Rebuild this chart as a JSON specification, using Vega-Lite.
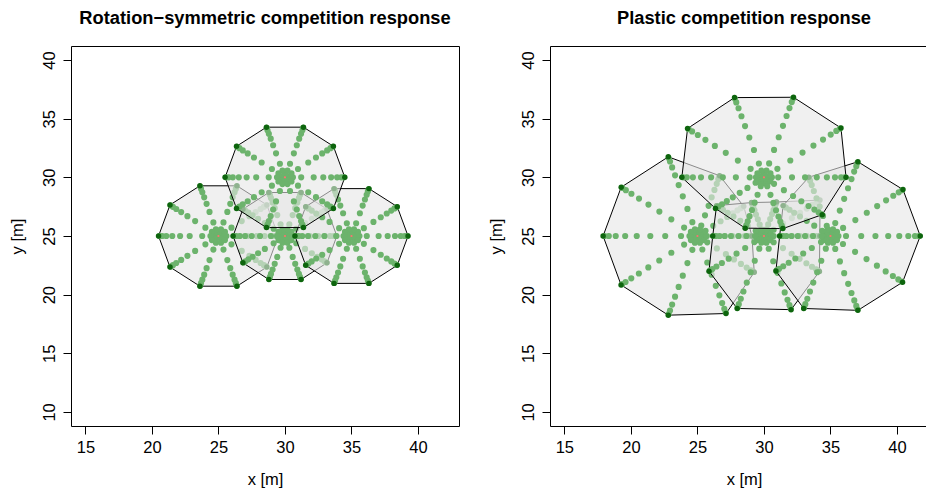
{
  "$schema": "https://vega.github.io/schema/vega-lite/v6.json",
  "background": "white",
  "padding": {"left": 8, "top": 8, "right": 0, "bottom": 0},
  "spacing": 91,
  "bounds": "flush",
  "config": {
    "view": {"stroke": "black", "strokeWidth": 1},
    "font": "Liberation Sans",
    "axis": {
      "grid": false, "domain": false,
      "tickColor": "black", "tickSize": 8, "tickWidth": 1,
      "labelColor": "black", "labelFont": "Liberation Sans", "labelFontSize": 16.5,
      "titleColor": "black", "titleFont": "Liberation Sans", "titleFontSize": 16.5, "titleFontWeight": "normal"
    },
    "axisX": {"labelPadding": 5.5, "titlePadding": 15},
    "axisY": {"labelAngle": -90, "labelAlign": "center", "labelBaseline": "bottom", "labelPadding": 6, "titlePadding": 16},
    "title": {"font": "Liberation Sans", "fontSize": 18.3, "fontWeight": "bold", "color": "black", "offset": 18, "anchor": "middle"}
  },
  "datasets": {
    "polyA": [
      {"t":1,"k":0,"x":29.5,"y":25},{"t":1,"k":1,"x":28.64,"y":27.65},{"t":1,"k":2,"x":26.39,"y":29.28},{"t":1,"k":3,"x":23.61,"y":29.28},{"t":1,"k":4,"x":21.36,"y":27.65},{"t":1,"k":5,"x":20.5,"y":25},{"t":1,"k":6,"x":21.36,"y":22.35},{"t":1,"k":7,"x":23.61,"y":20.72},{"t":1,"k":8,"x":26.39,"y":20.72},{"t":1,"k":9,"x":28.64,"y":22.35},{"t":1,"k":10,"x":29.5,"y":25},
      {"t":2,"k":0,"x":33.9,"y":25},{"t":2,"k":1,"x":33.16,"y":27.29},{"t":2,"k":2,"x":31.21,"y":28.71},{"t":2,"k":3,"x":28.79,"y":28.71},{"t":2,"k":4,"x":26.84,"y":27.29},{"t":2,"k":5,"x":26.1,"y":25},{"t":2,"k":6,"x":26.84,"y":22.71},{"t":2,"k":7,"x":28.79,"y":21.29},{"t":2,"k":8,"x":31.21,"y":21.29},{"t":2,"k":9,"x":33.16,"y":22.71},{"t":2,"k":10,"x":33.9,"y":25},
      {"t":3,"k":0,"x":39.25,"y":25},{"t":3,"k":1,"x":38.44,"y":27.5},{"t":3,"k":2,"x":36.31,"y":29.04},{"t":3,"k":3,"x":33.69,"y":29.04},{"t":3,"k":4,"x":31.56,"y":27.5},{"t":3,"k":5,"x":30.75,"y":25},{"t":3,"k":6,"x":31.56,"y":22.5},{"t":3,"k":7,"x":33.69,"y":20.96},{"t":3,"k":8,"x":36.31,"y":20.96},{"t":3,"k":9,"x":38.44,"y":22.5},{"t":3,"k":10,"x":39.25,"y":25},
      {"t":4,"k":0,"x":34.5,"y":30},{"t":4,"k":1,"x":33.64,"y":32.65},{"t":4,"k":2,"x":31.39,"y":34.28},{"t":4,"k":3,"x":28.61,"y":34.28},{"t":4,"k":4,"x":26.36,"y":32.65},{"t":4,"k":5,"x":25.5,"y":30},{"t":4,"k":6,"x":26.36,"y":27.35},{"t":4,"k":7,"x":28.61,"y":25.72},{"t":4,"k":8,"x":31.39,"y":25.72},{"t":4,"k":9,"x":33.64,"y":27.35},{"t":4,"k":10,"x":34.5,"y":30}
    ],
    "ctrA": [{"x":25,"y":25},{"x":30,"y":25},{"x":35,"y":25},{"x":30,"y":30}],
    "dotsA": [
      {"t":1,"x":25,"y":25},{"t":1,"x":25.29,"y":25.09},{"t":1,"x":25,"y":25.3},{"t":1,"x":24.71,"y":25.09},{"t":1,"x":24.82,"y":24.76},{"t":1,"x":25.18,"y":24.76},
      {"t":1,"x":25.6,"y":25},{"t":1,"x":25.49,"y":25.35},{"t":1,"x":25.19,"y":25.57},{"t":1,"x":24.81,"y":25.57},{"t":1,"x":24.51,"y":25.35},{"t":1,"x":24.4,"y":25},{"t":1,"x":24.51,"y":24.65},{"t":1,"x":24.81,"y":24.43},{"t":1,"x":25.19,"y":24.43},{"t":1,"x":25.49,"y":24.65},
      {"t":1,"x":26.22,"y":25},{"t":1,"x":25.98,"y":25.71},{"t":1,"x":25.38,"y":26.16},{"t":1,"x":24.62,"y":26.16},{"t":1,"x":24.02,"y":25.71},{"t":1,"x":23.78,"y":25},{"t":1,"x":24.02,"y":24.29},{"t":1,"x":24.62,"y":23.84},{"t":1,"x":25.38,"y":23.84},{"t":1,"x":25.98,"y":24.29},
      {"t":1,"x":27.16,"y":25},{"t":1,"x":26.75,"y":26.27},{"t":1,"x":25.67,"y":27.05},{"t":1,"x":24.33,"y":27.05},{"t":1,"x":23.25,"y":26.27},{"t":1,"x":22.84,"y":25},{"t":1,"x":23.25,"y":23.73},{"t":1,"x":24.33,"y":22.95},{"t":1,"x":25.67,"y":22.95},{"t":1,"x":26.75,"y":23.73},
      {"t":1,"x":27.88,"y":25},{"t":1,"x":27.33,"y":26.69},{"t":1,"x":25.89,"y":27.74},{"t":1,"x":24.11,"y":27.74},{"t":1,"x":22.67,"y":26.69},{"t":1,"x":22.12,"y":25},{"t":1,"x":22.67,"y":23.31},{"t":1,"x":24.11,"y":22.26},{"t":1,"x":25.89,"y":22.26},{"t":1,"x":27.33,"y":23.31},
      {"t":1,"x":28.47,"y":25},{"t":1,"x":27.8,"y":27.04},{"t":1,"x":26.07,"y":28.3},{"t":1,"x":23.93,"y":28.3},{"t":1,"x":22.2,"y":27.04},{"t":1,"x":21.53,"y":25},{"t":1,"x":22.2,"y":22.96},{"t":1,"x":23.93,"y":21.7},{"t":1,"x":26.07,"y":21.7},{"t":1,"x":27.8,"y":22.96},
      {"t":1,"x":28.92,"y":25},{"t":1,"x":28.17,"y":27.3},{"t":1,"x":26.21,"y":28.72},{"t":1,"x":23.79,"y":28.72},{"t":1,"x":21.83,"y":27.3},{"t":1,"x":21.08,"y":25},{"t":1,"x":21.83,"y":22.7},{"t":1,"x":23.79,"y":21.28},{"t":1,"x":26.21,"y":21.28},{"t":1,"x":28.17,"y":22.7},
      {"t":1,"x":29.23,"y":25},{"t":1,"x":28.42,"y":27.49},{"t":1,"x":26.31,"y":29.02},{"t":1,"x":23.69,"y":29.02},{"t":1,"x":21.58,"y":27.49},{"t":1,"x":20.77,"y":25},{"t":1,"x":21.58,"y":22.51},{"t":1,"x":23.69,"y":20.98},{"t":1,"x":26.31,"y":20.98},{"t":1,"x":28.42,"y":22.51},
      {"t":1,"x":29.43,"y":25},{"t":1,"x":28.59,"y":27.61},{"t":1,"x":26.37,"y":29.22},{"t":1,"x":23.63,"y":29.22},{"t":1,"x":21.41,"y":27.61},{"t":1,"x":20.57,"y":25},{"t":1,"x":21.41,"y":22.39},{"t":1,"x":23.63,"y":20.78},{"t":1,"x":26.37,"y":20.78},{"t":1,"x":28.59,"y":22.39},

      {"t":2,"x":30,"y":25},{"t":2,"x":30.29,"y":25.09},{"t":2,"x":30,"y":25.3},{"t":2,"x":29.71,"y":25.09},{"t":2,"x":29.82,"y":24.76},{"t":2,"x":30.18,"y":24.76},
      {"t":2,"x":30.6,"y":25},{"t":2,"x":30.49,"y":25.35},{"t":2,"x":30.19,"y":25.57},{"t":2,"x":29.81,"y":25.57},{"t":2,"x":29.51,"y":25.35},{"t":2,"x":29.4,"y":25},{"t":2,"x":29.51,"y":24.65},{"t":2,"x":29.81,"y":24.43},{"t":2,"x":30.19,"y":24.43},{"t":2,"x":30.49,"y":24.65},
      {"t":2,"x":31.05,"y":25},{"t":2,"x":30.85,"y":25.62},{"t":2,"x":30.33,"y":26},{"t":2,"x":29.67,"y":26},{"t":2,"x":29.15,"y":25.62},{"t":2,"x":28.95,"y":25},{"t":2,"x":29.15,"y":24.38},{"t":2,"x":29.67,"y":24},{"t":2,"x":30.33,"y":24},{"t":2,"x":30.85,"y":24.38},
      {"t":2,"x":31.87,"y":25},{"t":2,"x":31.51,"y":26.1},{"t":2,"x":30.58,"y":26.78},{"t":2,"x":29.42,"y":26.78},{"t":2,"x":28.49,"y":26.1},{"t":2,"x":28.13,"y":25},{"t":2,"x":28.49,"y":23.9},{"t":2,"x":29.42,"y":23.22},{"t":2,"x":30.58,"y":23.22},{"t":2,"x":31.51,"y":23.9},
      {"t":2,"x":32.5,"y":25},{"t":2,"x":32.02,"y":26.47},{"t":2,"x":30.77,"y":27.37},{"t":2,"x":29.23,"y":27.37},{"t":2,"x":27.98,"y":26.47},{"t":2,"x":27.5,"y":25},{"t":2,"x":27.98,"y":23.53},{"t":2,"x":29.23,"y":22.63},{"t":2,"x":30.77,"y":22.63},{"t":2,"x":32.02,"y":23.53},
      {"t":2,"x":33,"y":25},{"t":2,"x":32.43,"y":26.77},{"t":2,"x":30.93,"y":27.86},{"t":2,"x":29.07,"y":27.86},{"t":2,"x":27.57,"y":26.77},{"t":2,"x":27,"y":25},{"t":2,"x":27.57,"y":23.23},{"t":2,"x":29.07,"y":22.14},{"t":2,"x":30.93,"y":22.14},{"t":2,"x":32.43,"y":23.23},
      {"t":2,"x":33.39,"y":25},{"t":2,"x":32.75,"y":26.99},{"t":2,"x":31.05,"y":28.23},{"t":2,"x":28.95,"y":28.23},{"t":2,"x":27.25,"y":26.99},{"t":2,"x":26.61,"y":25},{"t":2,"x":27.25,"y":23.01},{"t":2,"x":28.95,"y":21.77},{"t":2,"x":31.05,"y":21.77},{"t":2,"x":32.75,"y":23.01},
      {"t":2,"x":33.67,"y":25},{"t":2,"x":32.97,"y":27.15},{"t":2,"x":31.13,"y":28.49},{"t":2,"x":28.87,"y":28.49},{"t":2,"x":27.03,"y":27.15},{"t":2,"x":26.33,"y":25},{"t":2,"x":27.03,"y":22.85},{"t":2,"x":28.87,"y":21.51},{"t":2,"x":31.13,"y":21.51},{"t":2,"x":32.97,"y":22.85},
      {"t":2,"x":33.84,"y":25},{"t":2,"x":33.11,"y":27.26},{"t":2,"x":31.19,"y":28.65},{"t":2,"x":28.81,"y":28.65},{"t":2,"x":26.89,"y":27.26},{"t":2,"x":26.16,"y":25},{"t":2,"x":26.89,"y":22.74},{"t":2,"x":28.81,"y":21.35},{"t":2,"x":31.19,"y":21.35},{"t":2,"x":33.11,"y":22.74},

      {"t":3,"x":35,"y":25},{"t":3,"x":35.29,"y":25.09},{"t":3,"x":35,"y":25.3},{"t":3,"x":34.71,"y":25.09},{"t":3,"x":34.82,"y":24.76},{"t":3,"x":35.18,"y":24.76},
      {"t":3,"x":35.6,"y":25},{"t":3,"x":35.49,"y":25.35},{"t":3,"x":35.19,"y":25.57},{"t":3,"x":34.81,"y":25.57},{"t":3,"x":34.51,"y":25.35},{"t":3,"x":34.4,"y":25},{"t":3,"x":34.51,"y":24.65},{"t":3,"x":34.81,"y":24.43},{"t":3,"x":35.19,"y":24.43},{"t":3,"x":35.49,"y":24.65},
      {"t":3,"x":36.15,"y":25},{"t":3,"x":35.93,"y":25.67},{"t":3,"x":35.35,"y":26.09},{"t":3,"x":34.65,"y":26.09},{"t":3,"x":34.07,"y":25.67},{"t":3,"x":33.85,"y":25},{"t":3,"x":34.07,"y":24.33},{"t":3,"x":34.65,"y":23.91},{"t":3,"x":35.35,"y":23.91},{"t":3,"x":35.93,"y":24.33},
      {"t":3,"x":37.04,"y":25},{"t":3,"x":36.65,"y":26.2},{"t":3,"x":35.63,"y":26.94},{"t":3,"x":34.37,"y":26.94},{"t":3,"x":33.35,"y":26.2},{"t":3,"x":32.96,"y":25},{"t":3,"x":33.35,"y":23.8},{"t":3,"x":34.37,"y":23.06},{"t":3,"x":35.63,"y":23.06},{"t":3,"x":36.65,"y":23.8},
      {"t":3,"x":37.72,"y":25},{"t":3,"x":37.2,"y":26.6},{"t":3,"x":35.84,"y":27.59},{"t":3,"x":34.16,"y":27.59},{"t":3,"x":32.8,"y":26.6},{"t":3,"x":32.28,"y":25},{"t":3,"x":32.8,"y":23.4},{"t":3,"x":34.16,"y":22.41},{"t":3,"x":35.84,"y":22.41},{"t":3,"x":37.2,"y":23.4},
      {"t":3,"x":38.27,"y":25},{"t":3,"x":37.65,"y":26.92},{"t":3,"x":36.01,"y":28.11},{"t":3,"x":33.99,"y":28.11},{"t":3,"x":32.35,"y":26.92},{"t":3,"x":31.73,"y":25},{"t":3,"x":32.35,"y":23.08},{"t":3,"x":33.99,"y":21.89},{"t":3,"x":36.01,"y":21.89},{"t":3,"x":37.65,"y":23.08},
      {"t":3,"x":38.7,"y":25},{"t":3,"x":37.99,"y":27.17},{"t":3,"x":36.14,"y":28.52},{"t":3,"x":33.86,"y":28.52},{"t":3,"x":32.01,"y":27.17},{"t":3,"x":31.3,"y":25},{"t":3,"x":32.01,"y":22.83},{"t":3,"x":33.86,"y":21.48},{"t":3,"x":36.14,"y":21.48},{"t":3,"x":37.99,"y":22.83},
      {"t":3,"x":39,"y":25},{"t":3,"x":38.23,"y":27.35},{"t":3,"x":36.23,"y":28.8},{"t":3,"x":33.77,"y":28.8},{"t":3,"x":31.77,"y":27.35},{"t":3,"x":31,"y":25},{"t":3,"x":31.77,"y":22.65},{"t":3,"x":33.77,"y":21.2},{"t":3,"x":36.23,"y":21.2},{"t":3,"x":38.23,"y":22.65},
      {"t":3,"x":39.19,"y":25},{"t":3,"x":38.39,"y":27.46},{"t":3,"x":36.29,"y":28.98},{"t":3,"x":33.71,"y":28.98},{"t":3,"x":31.61,"y":27.46},{"t":3,"x":30.81,"y":25},{"t":3,"x":31.61,"y":22.54},{"t":3,"x":33.71,"y":21.02},{"t":3,"x":36.29,"y":21.02},{"t":3,"x":38.39,"y":22.54},

      {"t":4,"x":30,"y":30},{"t":4,"x":30.29,"y":30.09},{"t":4,"x":30,"y":30.3},{"t":4,"x":29.71,"y":30.09},{"t":4,"x":29.82,"y":29.76},{"t":4,"x":30.18,"y":29.76},
      {"t":4,"x":30.6,"y":30},{"t":4,"x":30.49,"y":30.35},{"t":4,"x":30.19,"y":30.57},{"t":4,"x":29.81,"y":30.57},{"t":4,"x":29.51,"y":30.35},{"t":4,"x":29.4,"y":30},{"t":4,"x":29.51,"y":29.65},{"t":4,"x":29.81,"y":29.43},{"t":4,"x":30.19,"y":29.43},{"t":4,"x":30.49,"y":29.65},
      {"t":4,"x":31.22,"y":30},{"t":4,"x":30.98,"y":30.71},{"t":4,"x":30.38,"y":31.16},{"t":4,"x":29.62,"y":31.16},{"t":4,"x":29.02,"y":30.71},{"t":4,"x":28.78,"y":30},{"t":4,"x":29.02,"y":29.29},{"t":4,"x":29.62,"y":28.84},{"t":4,"x":30.38,"y":28.84},{"t":4,"x":30.98,"y":29.29},
      {"t":4,"x":32.16,"y":30},{"t":4,"x":31.75,"y":31.27},{"t":4,"x":30.67,"y":32.05},{"t":4,"x":29.33,"y":32.05},{"t":4,"x":28.25,"y":31.27},{"t":4,"x":27.84,"y":30},{"t":4,"x":28.25,"y":28.73},{"t":4,"x":29.33,"y":27.95},{"t":4,"x":30.67,"y":27.95},{"t":4,"x":31.75,"y":28.73},
      {"t":4,"x":32.88,"y":30},{"t":4,"x":32.33,"y":31.69},{"t":4,"x":30.89,"y":32.74},{"t":4,"x":29.11,"y":32.74},{"t":4,"x":27.67,"y":31.69},{"t":4,"x":27.12,"y":30},{"t":4,"x":27.67,"y":28.31},{"t":4,"x":29.11,"y":27.26},{"t":4,"x":30.89,"y":27.26},{"t":4,"x":32.33,"y":28.31},
      {"t":4,"x":33.47,"y":30},{"t":4,"x":32.8,"y":32.04},{"t":4,"x":31.07,"y":33.3},{"t":4,"x":28.93,"y":33.3},{"t":4,"x":27.2,"y":32.04},{"t":4,"x":26.53,"y":30},{"t":4,"x":27.2,"y":27.96},{"t":4,"x":28.93,"y":26.7},{"t":4,"x":31.07,"y":26.7},{"t":4,"x":32.8,"y":27.96},
      {"t":4,"x":33.92,"y":30},{"t":4,"x":33.17,"y":32.3},{"t":4,"x":31.21,"y":33.72},{"t":4,"x":28.79,"y":33.72},{"t":4,"x":26.83,"y":32.3},{"t":4,"x":26.08,"y":30},{"t":4,"x":26.83,"y":27.7},{"t":4,"x":28.79,"y":26.28},{"t":4,"x":31.21,"y":26.28},{"t":4,"x":33.17,"y":27.7},
      {"t":4,"x":34.23,"y":30},{"t":4,"x":33.42,"y":32.49},{"t":4,"x":31.31,"y":34.02},{"t":4,"x":28.69,"y":34.02},{"t":4,"x":26.58,"y":32.49},{"t":4,"x":25.77,"y":30},{"t":4,"x":26.58,"y":27.51},{"t":4,"x":28.69,"y":25.98},{"t":4,"x":31.31,"y":25.98},{"t":4,"x":33.42,"y":27.51},
      {"t":4,"x":34.43,"y":30},{"t":4,"x":33.59,"y":32.61},{"t":4,"x":31.37,"y":34.22},{"t":4,"x":28.63,"y":34.22},{"t":4,"x":26.41,"y":32.61},{"t":4,"x":25.57,"y":30},{"t":4,"x":26.41,"y":27.39},{"t":4,"x":28.63,"y":25.78},{"t":4,"x":31.37,"y":25.78},{"t":4,"x":33.59,"y":27.39}
    ],
    "polyB": [
      {"t":1,"k":0,"x":29.1,"y":25},{"t":1,"k":1,"x":28.48,"y":27.53},{"t":1,"k":2,"x":26.67,"y":30.14},{"t":1,"k":3,"x":22.81,"y":31.75},{"t":1,"k":4,"x":19.27,"y":29.16},{"t":1,"k":5,"x":17.91,"y":25},{"t":1,"k":6,"x":19.26,"y":20.83},{"t":1,"k":7,"x":22.81,"y":18.25},{"t":1,"k":8,"x":27.15,"y":18.39},{"t":1,"k":9,"x":29.27,"y":21.9},{"t":1,"k":10,"x":29.1,"y":25},
      {"t":2,"k":0,"x":34.2,"y":25},{"t":2,"k":1,"x":34.21,"y":28.06},{"t":2,"k":2,"x":30.94,"y":27.9},{"t":2,"k":3,"x":29.07,"y":27.85},{"t":2,"k":4,"x":26.44,"y":27.59},{"t":2,"k":5,"x":26.15,"y":25},{"t":2,"k":6,"x":25.87,"y":22},{"t":2,"k":7,"x":27.99,"y":18.82},{"t":2,"k":8,"x":32.04,"y":18.72},{"t":2,"k":9,"x":34.17,"y":21.97},{"t":2,"k":10,"x":34.2,"y":25},
      {"t":3,"k":0,"x":41.75,"y":25},{"t":3,"k":1,"x":40.45,"y":28.96},{"t":3,"k":2,"x":37.06,"y":31.33},{"t":3,"k":3,"x":33.37,"y":30.01},{"t":3,"k":4,"x":31.44,"y":27.59},{"t":3,"k":5,"x":31.18,"y":25},{"t":3,"k":6,"x":30.9,"y":22.02},{"t":3,"k":7,"x":32.99,"y":18.82},{"t":3,"k":8,"x":37.06,"y":18.66},{"t":3,"k":9,"x":40.42,"y":21.06},{"t":3,"k":10,"x":41.75,"y":25},
      {"t":4,"k":0,"x":36.17,"y":30},{"t":4,"k":1,"x":35.79,"y":34.21},{"t":4,"k":2,"x":32.22,"y":36.83},{"t":4,"k":3,"x":27.79,"y":36.8},{"t":4,"k":4,"x":24.26,"y":34.17},{"t":4,"k":5,"x":23.83,"y":30},{"t":4,"k":6,"x":26.36,"y":27.35},{"t":4,"k":7,"x":28.59,"y":25.67},{"t":4,"k":8,"x":31.42,"y":25.63},{"t":4,"k":9,"x":34.38,"y":26.82},{"t":4,"k":10,"x":36.17,"y":30}
    ],
    "ctrB": [{"x":25,"y":25},{"x":30,"y":25},{"x":35,"y":25},{"x":30,"y":30}],
    "dotsB": [
      {"t":1,"x":25,"y":25},{"t":1,"x":25.29,"y":25.09},{"t":1,"x":25,"y":25.3},{"t":1,"x":24.71,"y":25.09},{"t":1,"x":24.82,"y":24.76},{"t":1,"x":25.18,"y":24.76},
      {"t":1,"x":25.6,"y":25},{"t":1,"x":25.49,"y":25.35},{"t":1,"x":25.19,"y":25.57},{"t":1,"x":24.81,"y":25.57},{"t":1,"x":24.51,"y":25.35},{"t":1,"x":24.4,"y":25},{"t":1,"x":24.51,"y":24.65},{"t":1,"x":24.81,"y":24.43},{"t":1,"x":25.19,"y":24.43},{"t":1,"x":25.49,"y":24.65},
      {"t":1,"x":25.71,"y":25},{"t":1,"x":26.4,"y":25},{"t":1,"x":27.05,"y":25},{"t":1,"x":27.64,"y":25},{"t":1,"x":28.14,"y":25},{"t":1,"x":28.55,"y":25},{"t":1,"x":28.85,"y":25},{"t":1,"x":29.04,"y":25},
      {"t":1,"x":25.61,"y":25.44},{"t":1,"x":26.19,"y":25.87},{"t":1,"x":26.74,"y":26.26},{"t":1,"x":27.24,"y":26.63},{"t":1,"x":27.67,"y":26.94},{"t":1,"x":28.01,"y":27.19},{"t":1,"x":28.27,"y":27.38},{"t":1,"x":28.43,"y":27.49},
      {"t":1,"x":25.29,"y":25.89},{"t":1,"x":25.57,"y":26.76},{"t":1,"x":25.84,"y":27.57},{"t":1,"x":26.07,"y":28.3},{"t":1,"x":26.28,"y":28.93},{"t":1,"x":26.45,"y":29.45},{"t":1,"x":26.57,"y":29.83},{"t":1,"x":26.64,"y":30.06},
      {"t":1,"x":24.62,"y":26.18},{"t":1,"x":24.25,"y":27.31},{"t":1,"x":23.9,"y":28.38},{"t":1,"x":23.59,"y":29.34},{"t":1,"x":23.32,"y":30.17},{"t":1,"x":23.1,"y":30.85},{"t":1,"x":22.94,"y":31.35},{"t":1,"x":22.84,"y":31.65},
      {"t":1,"x":24,"y":25.72},{"t":1,"x":23.04,"y":26.42},{"t":1,"x":22.14,"y":27.08},{"t":1,"x":21.32,"y":27.68},{"t":1,"x":20.61,"y":28.19},{"t":1,"x":20.04,"y":28.6},{"t":1,"x":19.62,"y":28.91},{"t":1,"x":19.36,"y":29.1},
      {"t":1,"x":23.77,"y":25},{"t":1,"x":22.58,"y":25},{"t":1,"x":21.46,"y":25},{"t":1,"x":20.44,"y":25},{"t":1,"x":19.57,"y":25},{"t":1,"x":18.86,"y":25},{"t":1,"x":18.34,"y":25},{"t":1,"x":18.02,"y":25},
      {"t":1,"x":24,"y":24.27},{"t":1,"x":23.04,"y":23.57},{"t":1,"x":22.13,"y":22.91},{"t":1,"x":21.31,"y":22.32},{"t":1,"x":20.6,"y":21.8},{"t":1,"x":20.03,"y":21.39},{"t":1,"x":19.6,"y":21.08},{"t":1,"x":19.34,"y":20.89},
      {"t":1,"x":24.62,"y":23.82},{"t":1,"x":24.25,"y":22.69},{"t":1,"x":23.9,"y":21.62},{"t":1,"x":23.59,"y":20.66},{"t":1,"x":23.32,"y":19.83},{"t":1,"x":23.1,"y":19.15},{"t":1,"x":22.94,"y":18.65},{"t":1,"x":22.84,"y":18.35},
      {"t":1,"x":25.37,"y":23.85},{"t":1,"x":25.74,"y":22.74},{"t":1,"x":26.07,"y":21.7},{"t":1,"x":26.38,"y":20.75},{"t":1,"x":26.65,"y":19.94},{"t":1,"x":26.86,"y":19.28},{"t":1,"x":27.02,"y":18.79},{"t":1,"x":27.12,"y":18.49},
      {"t":1,"x":25.74,"y":24.46},{"t":1,"x":26.46,"y":23.94},{"t":1,"x":27.14,"y":23.45},{"t":1,"x":27.75,"y":23},{"t":1,"x":28.27,"y":22.62},{"t":1,"x":28.7,"y":22.31},{"t":1,"x":29.02,"y":22.08},{"t":1,"x":29.21,"y":21.94},

      {"t":2,"x":30,"y":25},{"t":2,"x":30.29,"y":25.09},{"t":2,"x":30,"y":25.3},{"t":2,"x":29.71,"y":25.09},{"t":2,"x":29.82,"y":24.76},{"t":2,"x":30.18,"y":24.76},
      {"t":2,"x":30.6,"y":25},{"t":2,"x":30.49,"y":25.35},{"t":2,"x":30.19,"y":25.57},{"t":2,"x":29.81,"y":25.57},{"t":2,"x":29.51,"y":25.35},{"t":2,"x":29.4,"y":25},{"t":2,"x":29.51,"y":24.65},{"t":2,"x":29.81,"y":24.43},{"t":2,"x":30.19,"y":24.43},{"t":2,"x":30.49,"y":24.65},
      {"t":2,"x":30.73,"y":25},{"t":2,"x":31.44,"y":25},{"t":2,"x":32.1,"y":25},{"t":2,"x":32.7,"y":25},{"t":2,"x":33.22,"y":25},{"t":2,"x":33.64,"y":25},{"t":2,"x":33.95,"y":25},{"t":2,"x":34.14,"y":25},
      {"t":2,"x":30.73,"y":25.53},{"t":2,"x":31.44,"y":26.05},{"t":2,"x":32.1,"y":26.53},{"t":2,"x":32.71,"y":26.97},{"t":2,"x":33.22,"y":27.34},{"t":2,"x":33.64,"y":27.65},{"t":2,"x":33.96,"y":27.87},{"t":2,"x":34.14,"y":28.01},
      {"t":2,"x":30.16,"y":25.5},{"t":2,"x":30.32,"y":25.99},{"t":2,"x":30.47,"y":26.45},{"t":2,"x":30.61,"y":26.87},{"t":2,"x":30.72,"y":27.22},{"t":2,"x":30.82,"y":27.51},{"t":2,"x":30.89,"y":27.73},{"t":2,"x":30.93,"y":27.86},
      {"t":2,"x":29.84,"y":25.5},{"t":2,"x":29.68,"y":25.98},{"t":2,"x":29.54,"y":26.43},{"t":2,"x":29.4,"y":26.83},{"t":2,"x":29.29,"y":27.19},{"t":2,"x":29.2,"y":27.47},{"t":2,"x":29.13,"y":27.68},{"t":2,"x":29.09,"y":27.81},
      {"t":2,"x":29.38,"y":25.45},{"t":2,"x":28.78,"y":25.88},{"t":2,"x":28.22,"y":26.29},{"t":2,"x":27.71,"y":26.66},{"t":2,"x":27.27,"y":26.98},{"t":2,"x":26.92,"y":27.24},{"t":2,"x":26.65,"y":27.43},{"t":2,"x":26.49,"y":27.55},
      {"t":2,"x":29.33,"y":25},{"t":2,"x":28.68,"y":25},{"t":2,"x":28.08,"y":25},{"t":2,"x":27.52,"y":25},{"t":2,"x":27.05,"y":25},{"t":2,"x":26.67,"y":25},{"t":2,"x":26.38,"y":25},{"t":2,"x":26.21,"y":25},
      {"t":2,"x":29.28,"y":24.48},{"t":2,"x":28.59,"y":23.98},{"t":2,"x":27.94,"y":23.5},{"t":2,"x":27.35,"y":23.07},{"t":2,"x":26.84,"y":22.7},{"t":2,"x":26.43,"y":22.4},{"t":2,"x":26.12,"y":22.18},{"t":2,"x":25.94,"y":22.05},
      {"t":2,"x":29.65,"y":23.92},{"t":2,"x":29.31,"y":22.89},{"t":2,"x":29,"y":21.91},{"t":2,"x":28.71,"y":21.03},{"t":2,"x":28.46,"y":20.27},{"t":2,"x":28.26,"y":19.65},{"t":2,"x":28.11,"y":19.19},{"t":2,"x":28.02,"y":18.91},
      {"t":2,"x":30.36,"y":23.91},{"t":2,"x":30.7,"y":22.85},{"t":2,"x":31.02,"y":21.86},{"t":2,"x":31.31,"y":20.96},{"t":2,"x":31.56,"y":20.19},{"t":2,"x":31.77,"y":19.56},{"t":2,"x":31.92,"y":19.1},{"t":2,"x":32.01,"y":18.82},
      {"t":2,"x":30.73,"y":24.47},{"t":2,"x":31.43,"y":23.97},{"t":2,"x":32.08,"y":23.49},{"t":2,"x":32.68,"y":23.05},{"t":2,"x":33.19,"y":22.68},{"t":2,"x":33.61,"y":22.38},{"t":2,"x":33.92,"y":22.16},{"t":2,"x":34.1,"y":22.02},

      {"t":3,"x":35,"y":25},{"t":3,"x":35.29,"y":25.09},{"t":3,"x":35,"y":25.3},{"t":3,"x":34.71,"y":25.09},{"t":3,"x":34.82,"y":24.76},{"t":3,"x":35.18,"y":24.76},
      {"t":3,"x":35.6,"y":25},{"t":3,"x":35.49,"y":25.35},{"t":3,"x":35.19,"y":25.57},{"t":3,"x":34.81,"y":25.57},{"t":3,"x":34.51,"y":25.35},{"t":3,"x":34.4,"y":25},{"t":3,"x":34.51,"y":24.65},{"t":3,"x":34.81,"y":24.43},{"t":3,"x":35.19,"y":24.43},{"t":3,"x":35.49,"y":24.65},
      {"t":3,"x":36.17,"y":25},{"t":3,"x":37.31,"y":25},{"t":3,"x":38.38,"y":25},{"t":3,"x":39.34,"y":25},{"t":3,"x":40.17,"y":25},{"t":3,"x":40.85,"y":25},{"t":3,"x":41.35,"y":25},{"t":3,"x":41.65,"y":25},
      {"t":3,"x":35.95,"y":25.69},{"t":3,"x":36.87,"y":26.36},{"t":3,"x":37.73,"y":26.98},{"t":3,"x":38.51,"y":27.55},{"t":3,"x":39.18,"y":28.04},{"t":3,"x":39.72,"y":28.43},{"t":3,"x":40.13,"y":28.72},{"t":3,"x":40.37,"y":28.9},
      {"t":3,"x":35.36,"y":26.1},{"t":3,"x":35.7,"y":27.17},{"t":3,"x":36.03,"y":28.17},{"t":3,"x":36.32,"y":29.07},{"t":3,"x":36.58,"y":29.85},{"t":3,"x":36.78,"y":30.49},{"t":3,"x":36.94,"y":30.95},{"t":3,"x":37.03,"y":31.24},
      {"t":3,"x":34.72,"y":25.87},{"t":3,"x":34.44,"y":26.71},{"t":3,"x":34.19,"y":27.51},{"t":3,"x":33.95,"y":28.22},{"t":3,"x":33.75,"y":28.84},{"t":3,"x":33.59,"y":29.34},{"t":3,"x":33.47,"y":29.71},{"t":3,"x":33.4,"y":29.94},
      {"t":3,"x":34.38,"y":25.45},{"t":3,"x":33.78,"y":25.88},{"t":3,"x":33.22,"y":26.29},{"t":3,"x":32.71,"y":26.66},{"t":3,"x":32.27,"y":26.98},{"t":3,"x":31.92,"y":27.24},{"t":3,"x":31.65,"y":27.43},{"t":3,"x":31.49,"y":27.55},
      {"t":3,"x":34.34,"y":25},{"t":3,"x":33.69,"y":25},{"t":3,"x":33.09,"y":25},{"t":3,"x":32.54,"y":25},{"t":3,"x":32.07,"y":25},{"t":3,"x":31.69,"y":25},{"t":3,"x":31.41,"y":25},{"t":3,"x":31.24,"y":25},
      {"t":3,"x":34.29,"y":24.48},{"t":3,"x":33.6,"y":23.98},{"t":3,"x":32.95,"y":23.51},{"t":3,"x":32.36,"y":23.08},{"t":3,"x":31.86,"y":22.72},{"t":3,"x":31.45,"y":22.42},{"t":3,"x":31.14,"y":22.2},{"t":3,"x":30.96,"y":22.07},
      {"t":3,"x":34.65,"y":23.92},{"t":3,"x":34.31,"y":22.89},{"t":3,"x":34,"y":21.91},{"t":3,"x":33.71,"y":21.03},{"t":3,"x":33.46,"y":20.27},{"t":3,"x":33.26,"y":19.65},{"t":3,"x":33.11,"y":19.19},{"t":3,"x":33.02,"y":18.91},
      {"t":3,"x":35.36,"y":23.9},{"t":3,"x":35.71,"y":22.83},{"t":3,"x":36.03,"y":21.83},{"t":3,"x":36.33,"y":20.92},{"t":3,"x":36.58,"y":20.14},{"t":3,"x":36.79,"y":19.51},{"t":3,"x":36.94,"y":19.04},{"t":3,"x":37.03,"y":18.75},
      {"t":3,"x":35.94,"y":24.32},{"t":3,"x":36.85,"y":23.65},{"t":3,"x":37.71,"y":23.03},{"t":3,"x":38.49,"y":22.47},{"t":3,"x":39.15,"y":21.98},{"t":3,"x":39.69,"y":21.59},{"t":3,"x":40.1,"y":21.3},{"t":3,"x":40.34,"y":21.12},

      {"t":4,"x":30,"y":30},{"t":4,"x":30.29,"y":30.09},{"t":4,"x":30,"y":30.3},{"t":4,"x":29.71,"y":30.09},{"t":4,"x":29.82,"y":29.76},{"t":4,"x":30.18,"y":29.76},
      {"t":4,"x":30.6,"y":30},{"t":4,"x":30.49,"y":30.35},{"t":4,"x":30.19,"y":30.57},{"t":4,"x":29.81,"y":30.57},{"t":4,"x":29.51,"y":30.35},{"t":4,"x":29.4,"y":30},{"t":4,"x":29.51,"y":29.65},{"t":4,"x":29.81,"y":29.43},{"t":4,"x":30.19,"y":29.43},{"t":4,"x":30.49,"y":29.65},
      {"t":4,"x":31.07,"y":30},{"t":4,"x":32.11,"y":30},{"t":4,"x":33.09,"y":30},{"t":4,"x":33.97,"y":30},{"t":4,"x":34.73,"y":30},{"t":4,"x":35.34,"y":30},{"t":4,"x":35.8,"y":30},{"t":4,"x":36.08,"y":30},
      {"t":4,"x":31.01,"y":30.73},{"t":4,"x":31.98,"y":31.44},{"t":4,"x":32.9,"y":32.11},{"t":4,"x":33.72,"y":32.71},{"t":4,"x":34.44,"y":33.22},{"t":4,"x":35.02,"y":33.65},{"t":4,"x":35.44,"y":33.96},{"t":4,"x":35.71,"y":34.15},
      {"t":4,"x":30.39,"y":31.19},{"t":4,"x":30.76,"y":32.34},{"t":4,"x":31.11,"y":33.42},{"t":4,"x":31.43,"y":34.39},{"t":4,"x":31.7,"y":35.23},{"t":4,"x":31.92,"y":35.91},{"t":4,"x":32.09,"y":36.42},{"t":4,"x":32.19,"y":36.73},
      {"t":4,"x":29.62,"y":31.18},{"t":4,"x":29.25,"y":32.33},{"t":4,"x":28.9,"y":33.4},{"t":4,"x":28.58,"y":34.37},{"t":4,"x":28.31,"y":35.21},{"t":4,"x":28.09,"y":35.89},{"t":4,"x":27.92,"y":36.39},{"t":4,"x":27.82,"y":36.7},
      {"t":4,"x":29,"y":30.73},{"t":4,"x":28.04,"y":31.43},{"t":4,"x":27.13,"y":32.09},{"t":4,"x":26.31,"y":32.68},{"t":4,"x":25.6,"y":33.2},{"t":4,"x":25.03,"y":33.61},{"t":4,"x":24.6,"y":33.92},{"t":4,"x":24.34,"y":34.11},
      {"t":4,"x":28.93,"y":30},{"t":4,"x":27.89,"y":30},{"t":4,"x":26.91,"y":30},{"t":4,"x":26.03,"y":30},{"t":4,"x":25.27,"y":30},{"t":4,"x":24.66,"y":30},{"t":4,"x":24.2,"y":30},{"t":4,"x":23.92,"y":30},
      {"t":4,"x":29.37,"y":29.54},{"t":4,"x":28.76,"y":29.1},{"t":4,"x":28.18,"y":28.68},{"t":4,"x":27.66,"y":28.3},{"t":4,"x":27.21,"y":27.97},{"t":4,"x":26.85,"y":27.71},{"t":4,"x":26.58,"y":27.51},{"t":4,"x":26.41,"y":27.4},
      {"t":4,"x":29.76,"y":29.25},{"t":4,"x":29.52,"y":28.52},{"t":4,"x":29.3,"y":27.84},{"t":4,"x":29.1,"y":27.22},{"t":4,"x":28.92,"y":26.69},{"t":4,"x":28.78,"y":26.25},{"t":4,"x":28.68,"y":25.93},{"t":4,"x":28.62,"y":25.74},
      {"t":4,"x":30.25,"y":29.24},{"t":4,"x":30.49,"y":28.51},{"t":4,"x":30.71,"y":27.82},{"t":4,"x":30.91,"y":27.19},{"t":4,"x":31.09,"y":26.66},{"t":4,"x":31.23,"y":26.22},{"t":4,"x":31.33,"y":25.9},{"t":4,"x":31.4,"y":25.7},
      {"t":4,"x":30.76,"y":29.45},{"t":4,"x":31.5,"y":28.91},{"t":4,"x":32.19,"y":28.41},{"t":4,"x":32.81,"y":27.96},{"t":4,"x":33.35,"y":27.56},{"t":4,"x":33.79,"y":27.25},{"t":4,"x":34.11,"y":27.01},{"t":4,"x":34.31,"y":26.87}
    ]
  },
  "hconcat": [
    {
      "title": {"text": "Rotation\u2212symmetric competition response"},
      "width": 388,
      "height": 380,
      "encoding": {
        "x": {"field": "x", "type": "quantitative", "scale": {"domain": [13.92, 43.08], "nice": false, "zero": false}, "axis": {"values": [15, 20, 25, 30, 35, 40], "title": "x [m]"}},
        "y": {"field": "y", "type": "quantitative", "scale": {"domain": [8.8, 41.2], "nice": false, "zero": false}, "axis": {"values": [10, 15, 20, 25, 30, 35, 40], "title": "y [m]"}}
      },
      "layer": [
        {"data": {"name": "polyA"}, "transform": [{"filter": "datum.t == 1"}], "mark": {"type": "line", "fill": "#e6e6e6", "fillOpacity": 0.6, "stroke": "black", "strokeWidth": 1}, "encoding": {"order": {"field": "k", "type": "quantitative"}}},
        {"data": {"name": "dotsA"}, "transform": [{"filter": "datum.t == 1"}], "mark": {"type": "circle", "size": 38, "color": "#6cb36c", "opacity": 1}},
        {"data": {"name": "polyA"}, "transform": [{"filter": "datum.t == 1 && datum.k < 10"}], "mark": {"type": "circle", "size": 30, "color": "#0d650d", "opacity": 1}},
        {"data": {"name": "polyA"}, "transform": [{"filter": "datum.t == 2"}], "mark": {"type": "line", "fill": "#e6e6e6", "fillOpacity": 0.6, "stroke": "black", "strokeWidth": 1}, "encoding": {"order": {"field": "k", "type": "quantitative"}}},
        {"data": {"name": "dotsA"}, "transform": [{"filter": "datum.t == 2"}], "mark": {"type": "circle", "size": 38, "color": "#6cb36c", "opacity": 1}},
        {"data": {"name": "polyA"}, "transform": [{"filter": "datum.t == 2 && datum.k < 10"}], "mark": {"type": "circle", "size": 30, "color": "#0d650d", "opacity": 1}},
        {"data": {"name": "polyA"}, "transform": [{"filter": "datum.t == 3"}], "mark": {"type": "line", "fill": "#e6e6e6", "fillOpacity": 0.6, "stroke": "black", "strokeWidth": 1}, "encoding": {"order": {"field": "k", "type": "quantitative"}}},
        {"data": {"name": "dotsA"}, "transform": [{"filter": "datum.t == 3"}], "mark": {"type": "circle", "size": 38, "color": "#6cb36c", "opacity": 1}},
        {"data": {"name": "polyA"}, "transform": [{"filter": "datum.t == 3 && datum.k < 10"}], "mark": {"type": "circle", "size": 30, "color": "#0d650d", "opacity": 1}},
        {"data": {"name": "polyA"}, "transform": [{"filter": "datum.t == 4"}], "mark": {"type": "line", "fill": "#e6e6e6", "fillOpacity": 0.6, "stroke": "black", "strokeWidth": 1}, "encoding": {"order": {"field": "k", "type": "quantitative"}}},
        {"data": {"name": "dotsA"}, "transform": [{"filter": "datum.t == 4"}], "mark": {"type": "circle", "size": 38, "color": "#6cb36c", "opacity": 1}},
        {"data": {"name": "polyA"}, "transform": [{"filter": "datum.t == 4 && datum.k < 10"}], "mark": {"type": "circle", "size": 30, "color": "#0d650d", "opacity": 1}},
        {"data": {"name": "ctrA"}, "mark": {"type": "circle", "size": 5, "color": "#ff7070", "opacity": 1}}
      ]
    },
    {
      "title": {"text": "Plastic competition response", "dx": 6},
      "width": 376,
      "height": 380,
      "encoding": {
        "x": {"field": "x", "type": "quantitative", "scale": {"domain": [13.92, 42.18], "nice": false, "zero": false}, "axis": {"values": [15, 20, 25, 30, 35, 40], "title": "x [m]", "titleX": 194}},
        "y": {"field": "y", "type": "quantitative", "scale": {"domain": [8.8, 41.2], "nice": false, "zero": false}, "axis": {"values": [10, 15, 20, 25, 30, 35, 40], "title": "y [m]"}}
      },
      "layer": [
        {"data": {"name": "polyB"}, "transform": [{"filter": "datum.t == 1"}], "mark": {"type": "line", "fill": "#e6e6e6", "fillOpacity": 0.6, "stroke": "black", "strokeWidth": 1}, "encoding": {"order": {"field": "k", "type": "quantitative"}}},
        {"data": {"name": "dotsB"}, "transform": [{"filter": "datum.t == 1"}], "mark": {"type": "circle", "size": 38, "color": "#6cb36c", "opacity": 1}},
        {"data": {"name": "polyB"}, "transform": [{"filter": "datum.t == 1 && datum.k < 10"}], "mark": {"type": "circle", "size": 30, "color": "#0d650d", "opacity": 1}},
        {"data": {"name": "polyB"}, "transform": [{"filter": "datum.t == 2"}], "mark": {"type": "line", "fill": "#e6e6e6", "fillOpacity": 0.6, "stroke": "black", "strokeWidth": 1}, "encoding": {"order": {"field": "k", "type": "quantitative"}}},
        {"data": {"name": "dotsB"}, "transform": [{"filter": "datum.t == 2"}], "mark": {"type": "circle", "size": 38, "color": "#6cb36c", "opacity": 1}},
        {"data": {"name": "polyB"}, "transform": [{"filter": "datum.t == 2 && datum.k < 10"}], "mark": {"type": "circle", "size": 30, "color": "#0d650d", "opacity": 1}},
        {"data": {"name": "polyB"}, "transform": [{"filter": "datum.t == 3"}], "mark": {"type": "line", "fill": "#e6e6e6", "fillOpacity": 0.6, "stroke": "black", "strokeWidth": 1}, "encoding": {"order": {"field": "k", "type": "quantitative"}}},
        {"data": {"name": "dotsB"}, "transform": [{"filter": "datum.t == 3"}], "mark": {"type": "circle", "size": 38, "color": "#6cb36c", "opacity": 1}},
        {"data": {"name": "polyB"}, "transform": [{"filter": "datum.t == 3 && datum.k < 10"}], "mark": {"type": "circle", "size": 30, "color": "#0d650d", "opacity": 1}},
        {"data": {"name": "polyB"}, "transform": [{"filter": "datum.t == 4"}], "mark": {"type": "line", "fill": "#e6e6e6", "fillOpacity": 0.6, "stroke": "black", "strokeWidth": 1}, "encoding": {"order": {"field": "k", "type": "quantitative"}}},
        {"data": {"name": "dotsB"}, "transform": [{"filter": "datum.t == 4"}], "mark": {"type": "circle", "size": 38, "color": "#6cb36c", "opacity": 1}},
        {"data": {"name": "polyB"}, "transform": [{"filter": "datum.t == 4 && datum.k < 10"}], "mark": {"type": "circle", "size": 30, "color": "#0d650d", "opacity": 1}},
        {"data": {"name": "ctrB"}, "mark": {"type": "circle", "size": 5, "color": "#ff7070", "opacity": 1}}
      ]
    }
  ]
}
